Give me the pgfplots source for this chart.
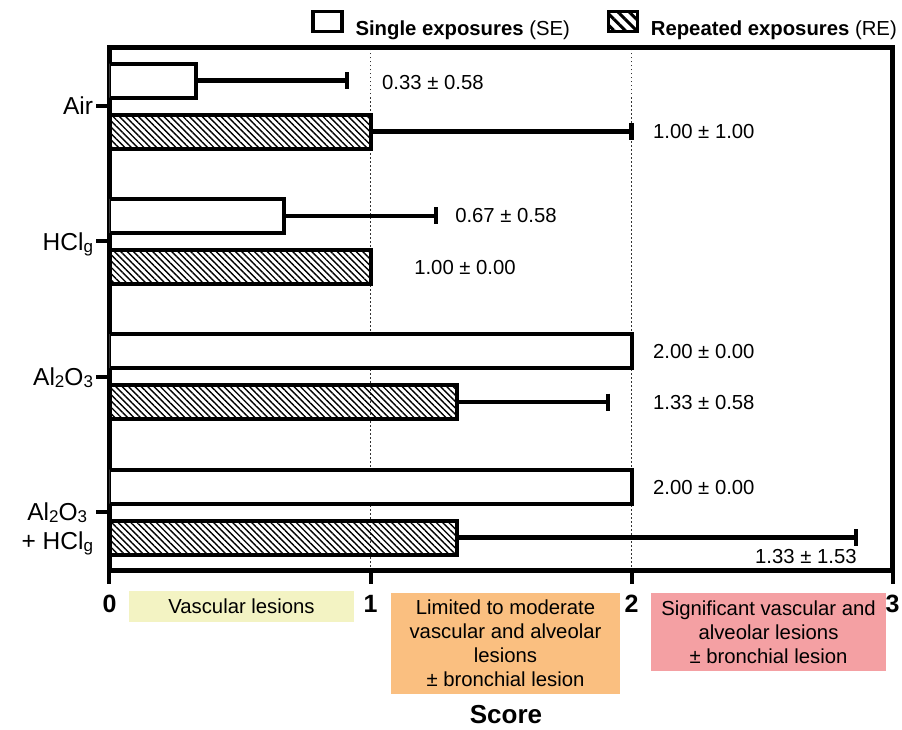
\documentclass[border=0pt]{standalone}
\usepackage{fontspec}
\setmainfont{Liberation Sans}
\usepackage{pgfplots}
\pgfplotsset{compat=1.18}
\usetikzlibrary{patterns.meta}

\definecolor{vascular}{HTML}{F3F3C3}
\definecolor{moderate}{HTML}{FABF80}
\definecolor{significant}{HTML}{F4A0A3}

\newcommand{\annot}{\fontsize{20.3}{24}\selectfont}
% small chemical subscripts, only slightly lowered
\newcommand{\sub}[1]{\raisebox{-2pt}{\fontsize{17}{17}\selectfont #1}}

\pgfplotsset{
    sd bars/.style={
        error bars/.cd, x dir=plus, x explicit,
        error bar style={draw=black, line width=4.3pt},
        error mark options={draw=black, rotate=90, line width=4.3pt, mark size=8.5pt}},
}

\begin{document}
\begin{tikzpicture}
\useasboundingbox (-109.5pt,-158.5pt) rectangle (792.5pt,570.5pt);
\begin{axis}[
    scale only axis,
    width=783pt, height=523.5pt,
    xmin=0, xmax=3,
    ymin=0.068, ymax=3.937,
    xbar, bar width=34pt,
    axis line style={line width=5pt, line cap=rect},
    xtick={0,1,2,3},
    ytick={0.5,1.5,2.5,3.5},
    yticklabels={{\begin{tabular}[t]{@{}c@{}}Al\sub{2}O\sub{3}\\+ HCl\sub{g}\end{tabular}},
                 {Al\sub{2}O\sub{3}},
                 {HCl\sub{g}},
                 {Air}},
    tick align=outside,
    xtick pos=bottom, ytick pos=left,
    major tick length=13pt,
    tick style={line width=4pt, black},
    xmajorgrids,
    major grid style={line width=1.5pt, black!80, dash pattern=on 1.5pt off 2.5pt},
    /pgf/number format/assume math mode=true,
    xticklabel style={font=\bfseries\fontsize{25}{25}\selectfont, yshift=-8pt},
    yticklabel style={font=\fontsize{24.5}{29}\selectfont, anchor=base east, yshift=-8.8pt},
    xlabel={Score},
    xlabel style={font=\bfseries\fontsize{26}{30}\selectfont, inner sep=0pt,
                  at={(axis description cs:0.5,0)}, anchor=center,
                  yshift=-144pt, xshift=5pt},
    legend columns=2,
    legend cell align=left,
    legend style={draw=none, fill=none, inner sep=0pt,
                  at={(1,1)}, anchor=south east, xshift=6.5pt, yshift=8pt,
                  font=\fontsize{20.3}{24}\selectfont,
                  /tikz/every odd column/.append style={column sep=10pt},
                  /tikz/every even column/.append style={column sep=35pt}},
]
% single exposures (SE): mean
\addplot[bar shift=25.5pt, fill=white, draw=black, line width=4pt,
         legend image code/.code={\draw[line width=3.2pt, fill=white] (0pt,-3pt) rectangle (29pt,17.5pt);}]
    coordinates {(2.00,0.5) (2.00,1.5) (0.67,2.5) (0.33,3.5)};
% repeated exposures (RE): mean
\addplot[bar shift=-25.5pt, draw=black, line width=4pt,
         pattern={Lines[angle=-45, distance=4.5pt, line width=1.4pt]},
         legend image code/.code={\draw[line width=3.2pt, pattern={Lines[angle=-45, distance=8pt, line width=3pt]}] (0pt,-3pt) rectangle (29pt,17.5pt);}]
    coordinates {(1.33,0.5) (1.33,1.5) (1.00,2.5) (1.00,3.5)};
\addlegendentry{\textbf{Single exposures} (SE)}
\addlegendentry{\textbf{Repeated exposures} (RE)}

% SD bars (only where SD > 0)
\addplot[forget plot, bar shift=25.5pt, draw=none, fill=none, sd bars]
    coordinates {(0.67,2.5) +- (0.58,0) (0.33,3.5) +- (0.58,0)};
\addplot[forget plot, bar shift=-25.5pt, draw=none, fill=none, sd bars]
    coordinates {(1.33,0.5) +- (1.53,0) (1.33,1.5) +- (0.58,0) (1.00,3.5) +- (1.00,0)};

\node[anchor=west, inner sep=0pt, font=\annot] at (axis cs:1.044,3.678) {0.33 ± 0.58};
\node[anchor=west, inner sep=0pt, font=\annot] at (axis cs:2.082,3.309) {1.00 ± 1.00};
\node[anchor=west, inner sep=0pt, font=\annot] at (axis cs:1.324,2.688) {0.67 ± 0.58};
\node[anchor=west, inner sep=0pt, font=\annot] at (axis cs:1.167,2.304) {1.00 ± 0.00};
\node[anchor=west, inner sep=0pt, font=\annot] at (axis cs:2.082,1.690) {2.00 ± 0.00};
\node[anchor=west, inner sep=0pt, font=\annot] at (axis cs:2.082,1.306) {1.33 ± 0.58};
\node[anchor=west, inner sep=0pt, font=\annot] at (axis cs:2.082,0.678) {2.00 ± 0.00};
\node[anchor=west, inner sep=0pt, font=\annot] at (axis cs:2.473,0.175) {1.33 ± 1.53};
\end{axis}

% score categories below the axis
\node[fill=vascular, minimum width=225pt, minimum height=31pt, inner sep=0pt, font=\annot]
    at (132pt,-36pt) {Vascular lesions};
\node[fill=moderate, minimum width=229pt, minimum height=101pt, inner sep=0pt, align=center, font=\annot]
    at (396pt,-73pt) {Limited to moderate\\vascular and alveolar\\lesions\\± bronchial lesion};
\node[fill=significant, minimum width=235pt, minimum height=78pt, inner sep=0pt, align=center, font=\annot]
    at (659pt,-61.5pt) {Significant vascular and\\alveolar lesions\\± bronchial lesion};
\end{tikzpicture}
\end{document}
